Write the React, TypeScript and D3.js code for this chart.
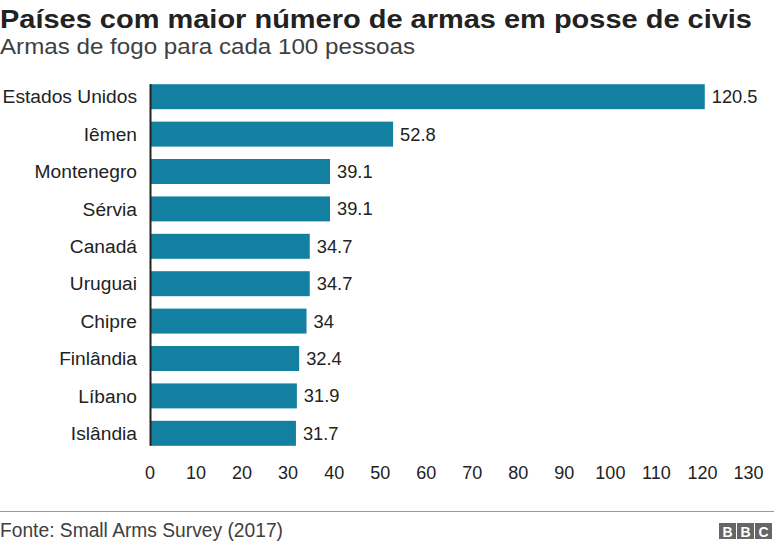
import React from "react";
import * as d3 from "d3";

const countries = ["Estados Unidos", "Iêmen", "Montenegro", "Sérvia", "Canadá", "Uruguai", "Chipre", "Finlândia", "Líbano", "Islândia"];
const values = [120.5, 52.8, 39.1, 39.1, 34.7, 34.7, 34, 32.4, 31.9, 31.7];
const valueLabels = ["120.5", "52.8", "39.1", "39.1", "34.7", "34.7", "34", "32.4", "31.9", "31.7"];
const ticks = [0, 10, 20, 30, 40, 50, 60, 70, 80, 90, 100, 110, 120, 130];

const title = "Países com maior número de armas em posse de civis";
const subtitle = "Armas de fogo para cada 100 pessoas";
const source = "Fonte: Small Arms Survey (2017)";

const W = 774;
const H = 545;
const FONT = "'Liberation Sans', Arial, Helvetica, sans-serif";
const BAR = "#1380a1";

export default function App() {
  const x = d3.scaleLinear().domain([0, 130]).range([150, 748.5]);
  const y = d3.scaleBand<string>().domain(countries).range([78, 452]).paddingInner(0.332).paddingOuter(0.166);
  const bw = y.bandwidth();
  const top = y(countries[0])!;
  const bottom = y(countries[countries.length - 1])! + bw;

  return (
    <svg width={W} height={H} style={{ position: "absolute", left: 0, top: 0, fontFamily: FONT }}>
      <rect width={W} height={H} fill="#fff" />
      <text x={0} y={28} fontSize={25.5} fontWeight="bold" fill="#222" textLength={752} lengthAdjust="spacingAndGlyphs">{title}</text>
      <text x={0} y={53.5} fontSize={22} fill="#404040" textLength={415} lengthAdjust="spacingAndGlyphs">{subtitle}</text>
      {countries.map((c, i) => (
        <g key={c}>
          <rect x={x(0)} y={y(c)} width={x(values[i]) - x(0)} height={bw} fill={BAR} />
          <text x={137} y={y(c)! + bw / 2} dy="0.35em" textAnchor="end" fontSize={19.2} fill="#222">{c}</text>
          <text x={x(values[i]) + 7} y={y(c)! + bw / 2} dy="0.35em" fontSize={18.3} fill="#222">{valueLabels[i]}</text>
        </g>
      ))}
      <line x1={150.5} x2={150.5} y1={top} y2={bottom} stroke="#222" strokeWidth={2} />
      {ticks.map((t) => (
        <text key={t} x={x(t)} y={479} textAnchor="middle" fontSize={18} fill="#222">{t}</text>
      ))}
      <line x1={0} x2={W} y1={511.5} y2={511.5} stroke="#999" strokeWidth={1} />
      <text x={0} y={537} fontSize={20} fill="#404040" textLength={283} lengthAdjust="spacingAndGlyphs">{source}</text>
      {["B", "B", "C"].map((l, i) => (
        <g key={i}>
          <rect x={719 + i * 18} y={523} width={17} height={16} fill="#666" />
          <text x={727.5 + i * 18} y={536.5} textAnchor="middle" fontSize={14} fontWeight="bold" fill="#fff">{l}</text>
        </g>
      ))}
    </svg>
  );
}
